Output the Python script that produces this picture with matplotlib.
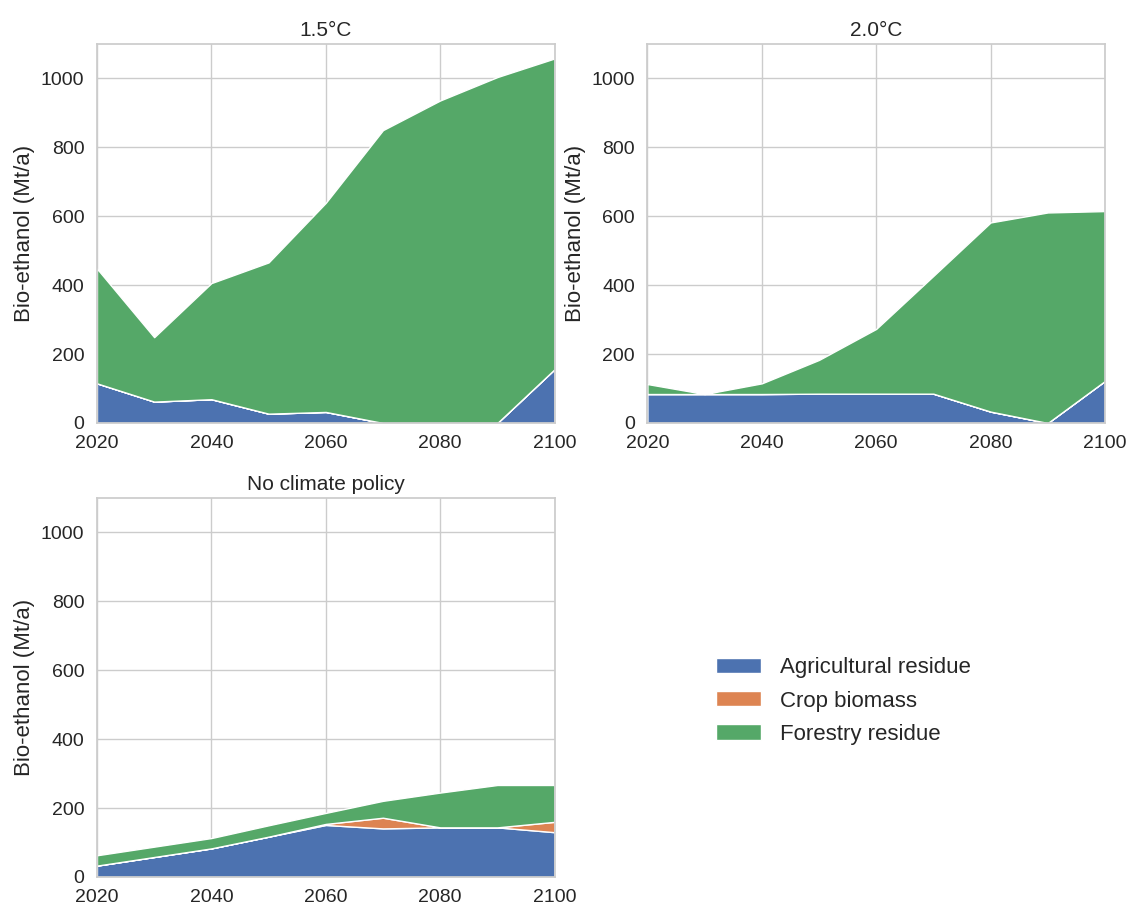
import matplotlib
matplotlib.use("Agg")
import matplotlib.pyplot as plt
import seaborn as sns

sns.set_theme(style="whitegrid")
plt.rcParams['font.family'] = ['Liberation Sans', 'DejaVu Sans']

years = [2020, 2030, 2040, 2050, 2060, 2070, 2080, 2090, 2100]
labels = ["Agricultural residue", "Crop biomass", "Forestry residue"]
colors = ["#4C72B0", "#DD8452", "#55A868"]

# 1.5°C
agri_15 = [115, 62, 69, 27, 32, 0, 0, 0, 156]
crop_15 = [0, 0, 0, 0, 0, 0, 0, 0, 0]
forest_15 = [333, 187, 337, 439, 607, 850, 936, 1004, 902]

# 2.0°C
agri_20 = [84, 84, 84, 85, 85, 85, 33, 0, 122]
crop_20 = [0, 0, 0, 0, 0, 0, 0, 0, 0]
forest_20 = [29, 0, 31, 98, 188, 342, 549, 611, 493]

# No climate policy
agri_ncp = [33, 58, 83, 117, 151, 141, 144, 144, 130]
crop_ncp = [0, 0, 0, 0, 3, 31, 0, 0, 30]
forest_ncp = [30, 30, 30, 33, 32, 49, 101, 123, 107]

titles = ["1.5°C", "2.0°C", "No climate policy"]
data = [(agri_15, crop_15, forest_15), (agri_20, crop_20, forest_20), (agri_ncp, crop_ncp, forest_ncp)]

fig, axes = plt.subplots(2, 2, figsize=(11.29, 9.07), dpi=100)
fig.subplots_adjust(left=0.0859, right=0.9787, top=0.9515, bottom=0.0331, wspace=0.203, hspace=0.198)
flat = [axes[0, 0], axes[0, 1], axes[1, 0]]
for ax, title, series in zip(flat, titles, data):
    ax.stackplot(years, *series, labels=labels, colors=colors, edgecolor="white", linewidth=1)
    ax.set_xlim(2020, 2100)
    ax.set_ylim(0, 1100)
    ax.set_xticks([2020, 2040, 2060, 2080, 2100])
    ax.set_yticks([0, 200, 400, 600, 800, 1000])
    ax.set_title(title, fontsize=15, pad=6)
    ax.set_ylabel("Bio-ethanol (Mt/a)", fontsize=16)
    ax.tick_params(labelsize=14, pad=3)
    ax.set_axisbelow(True)

axes[1, 1].axis("off")
handles, lbls = flat[0].get_legend_handles_labels()
fig.legend(handles, lbls, loc="center", bbox_to_anchor=(0.747, 0.227), frameon=False, fontsize=16,
           handlelength=2.0, handleheight=0.68, handletextpad=0.86, labelspacing=0.55)

fig.savefig("out.png", dpi=100)
